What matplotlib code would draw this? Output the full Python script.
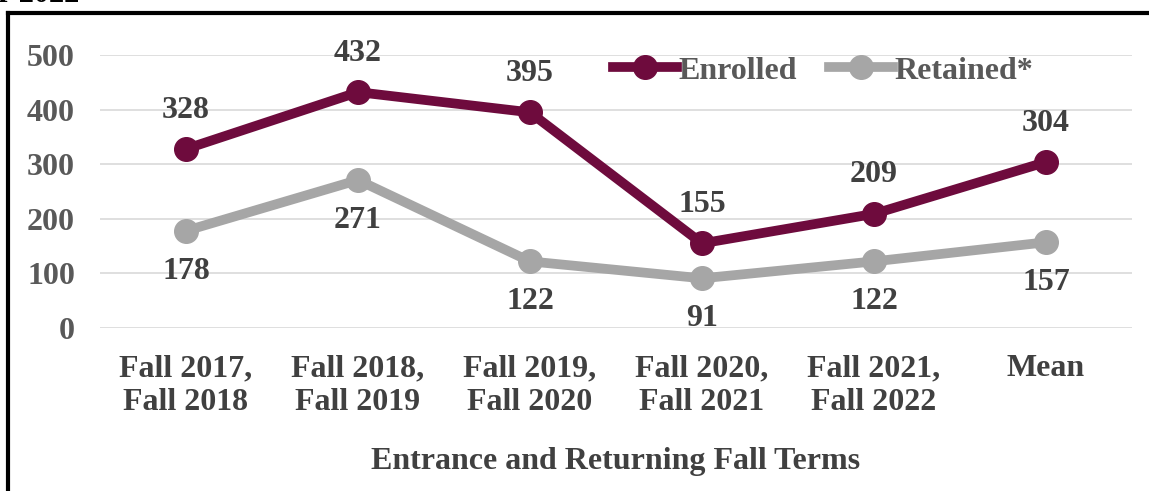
import numpy as np
import matplotlib.pyplot as plt

categories = ['Fall 2017,\nFall 2018', 'Fall 2018,\nFall 2019', 'Fall 2019,\nFall 2020',
              'Fall 2020,\nFall 2021', 'Fall 2021,\nFall 2022', 'Mean']
enrolled = [328, 432, 395, 155, 209, 304]
retained = [178, 271, 122, 91, 122, 157]

maroon = '#6e0b3d'
grey = '#a6a6a6'
txt = '#404040'

plt.rcParams['font.family'] = ['Liberation Serif', 'DejaVu Serif']
plt.rcParams['font.weight'] = 'bold'

fig = plt.figure(figsize=(11.49, 4.91), dpi=100)
ax = fig.add_axes([100 / 1149, 1 - 328 / 491, 1032 / 1149, 273 / 491])

x = np.arange(len(categories))
ax.plot(x, enrolled, color=maroon, lw=7, marker='o', ms=17, label='Enrolled', zorder=3)
ax.plot(x, retained, color=grey, lw=7, marker='o', ms=17, label='Retained*', zorder=3)

fs = 23
for i in range(len(x)):
    ax.annotate(str(enrolled[i]), (x[i], enrolled[i]), xytext=(0, 28), textcoords='offset points',
                ha='center', va='center', fontsize=fs, color=txt, fontweight='bold')
    ax.annotate(str(retained[i]), (x[i], retained[i]), xytext=(0, -29), textcoords='offset points',
                ha='center', va='center', fontsize=fs, color=txt, fontweight='bold')

ax.set_xlim(-0.5, len(x) - 0.5)
ax.set_ylim(0, 500)
ax.set_yticks(range(0, 501, 100))
ax.grid(axis='y', color='#d9d9d9', lw=1.2)
ax.set_axisbelow(True)
for s in ax.spines.values():
    s.set_visible(False)
ax.tick_params(length=0, labelsize=fs, labelcolor='#595959', pad=18)
ax.tick_params(axis='x', pad=19)
ax.set_xticks(x)
ax.set_xticklabels(categories, linespacing=1.2)
for lab in ax.get_xticklabels():
    lab.set_color(txt)
ax.set_xlabel('Entrance and Returning Fall Terms', fontsize=fs, color=txt, fontweight='bold',
              labelpad=22)

leg = ax.legend(loc='center right', bbox_to_anchor=(0.932, 0.942), ncol=2, frameon=False,
                fontsize=fs, handlelength=2.0, handletextpad=0.05, columnspacing=1.0)
for t in leg.get_texts():
    t.set_color('#595959')

# frame lines around the picture
fig.add_artist(plt.Line2D([8 / 1149, 8 / 1149], [0, 1 - 13 / 491], color='black', lw=3))
fig.add_artist(plt.Line2D([8 / 1149, 1], [1 - 13 / 491, 1 - 13 / 491], color='black', lw=3))
fig.text(-2 / 1149, 1 + 6 / 491, 'r 2022', fontsize=22, fontweight='bold', color='black',
         ha='left', va='center')

fig.savefig('out.png', dpi=100)
